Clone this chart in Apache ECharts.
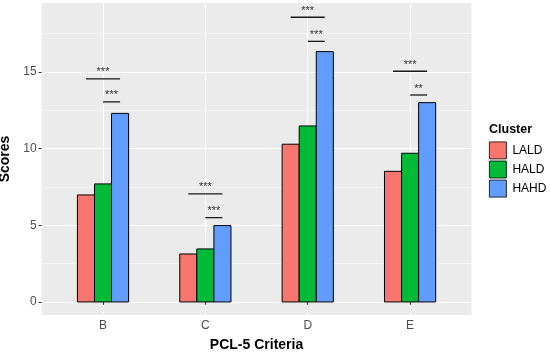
<!DOCTYPE html>
<html><head><meta charset="utf-8">
<script src="https://cdn.jsdelivr.net/npm/echarts@6/dist/echarts.min.js"></script>
<style>html,body{margin:0;padding:0;background:#fff}#c{width:550px;height:354px}</style>
</head><body><div id="c"></div>
<script>
const categories = ['B', 'C', 'D', 'E'];
const clusters = ['LALD', 'HALD', 'HAHD'];
const colors = ['#F8766D', '#00BA38', '#619CFF'];
const lald = [6.98, 3.13, 10.29, 8.52];
const hald = [7.70, 3.46, 11.48, 9.70];
const hahd = [12.30, 4.98, 16.33, 13.00];
// significance brackets
const sigAllY = [14.55, 7.05, 18.57, 15.05];      // LALD vs HAHD
const sigAllLabel = ['***', '***', '***', '***'];
const sigHighY = [13.05, 5.50, 17.00, 13.50];     // HALD vs HAHD
const sigHighLabel = ['***', '***', '***', '**'];
const yTicks = [0, 5, 10, 15];
const yMinor = [2.5, 7.5, 12.5, 17.5];

const seriesValues = [lald, hald, hahd];
const FONT = '"Liberation Sans", Arial, sans-serif';
const DODGE = 1 / 6;

function barSeries(k) {
  return {
    name: clusters[k],
    type: 'custom',
    xAxisIndex: 0, yAxisIndex: 0,
    itemStyle: { color: colors[k], borderColor: '#000', borderWidth: 0.8 },
    data: seriesValues[k].map((v, i) => [i + 1, v]),
    encode: { x: 0, y: 1 },
    renderItem: function (params, api) {
      const cx = api.value(0) + (k - 1) * DODGE;
      const p1 = api.coord([cx - DODGE / 2, api.value(1)]);
      const p0 = api.coord([cx + DODGE / 2, 0]);
      return {
        type: 'rect',
        shape: { x: p1[0], y: p1[1], width: p0[0] - p1[0], height: p0[1] - p1[1] },
        style: { fill: colors[k], stroke: '#000', lineWidth: 1 }
      };
    },
    z: 3
  };
}

const bracketData = [];
categories.forEach((c, i) => {
  bracketData.push([i + 1, sigAllY[i], sigAllLabel[i], 0]);
  bracketData.push([i + 1, sigHighY[i], sigHighLabel[i], 1]);
});

const bracketSeries = {
  type: 'custom',
  xAxisIndex: 0, yAxisIndex: 0,
  data: bracketData,
  encode: { x: 0, y: 1 },
  silent: true,
  renderItem: function (params, api) {
    const x = api.value(0), y = api.value(1);
    const kind = api.value(3);
    const lab = bracketData[params.dataIndex][2];
    const x0 = kind === 0 ? x - DODGE : x;
    const x1 = x + DODGE;
    const a = api.coord([x0, y]);
    const b = api.coord([x1, y]);
    return {
      type: 'group',
      children: [
        { type: 'line', shape: { x1: a[0], y1: a[1], x2: b[0], y2: b[1] },
          style: { stroke: '#1a1a1a', lineWidth: 1.3 } },
        { type: 'text', x: (a[0] + b[0]) / 2, y: a[1] - 1,
          style: { text: lab, fill: '#333', font: '11px ' + FONT, align: 'center', verticalAlign: 'bottom' } }
      ]
    };
  },
  z: 4
};

const chart = echarts.init(document.getElementById('c'), null, { renderer: 'canvas' });
chart.setOption({
  backgroundColor: '#fff',
  animation: false,
  textStyle: { fontFamily: FONT },
  grid: { left: 41.6, right: 78.5, top: 3, bottom: 39, backgroundColor: '#EBEBEB', show: true, borderWidth: 0,
    containLabel: false, outerBoundsMode: 'none' },
  xAxis: [{
    type: 'value', min: 0.4, max: 4.6,
    name: 'PCL-5 Criteria', nameLocation: 'middle', nameGap: 23,
    nameTextStyle: { fontFamily: FONT, fontWeight: 'bold', fontSize: 14, color: '#000' },
    axisLine: { show: false },
    axisTick: { show: true, length: 3, lineStyle: { color: '#333', width: 1 }, customValues: [1, 2, 3, 4] },
    axisLabel: { customValues: [1, 2, 3, 4], margin: 5, fontSize: 12, color: '#4D4D4D', fontFamily: FONT,
      formatter: v => categories[Math.round(v) - 1] || '' },
    splitLine: { show: true, lineStyle: { color: '#fff', width: 1.1 } }
  }],
  yAxis: [{
    type: 'value', min: -0.85, max: 19.5,
    name: 'Scores', nameLocation: 'middle', nameGap: 26, nameRotate: 90,
    nameTextStyle: { fontFamily: FONT, fontWeight: 'bold', fontSize: 14, color: '#000' },
    axisLine: { show: false },
    axisTick: { show: true, length: 3, lineStyle: { color: '#333', width: 1 }, customValues: yTicks },
    axisLabel: { customValues: yTicks, margin: 5, fontSize: 12, color: '#4D4D4D', fontFamily: FONT },
    splitLine: { show: true, lineStyle: { color: '#fff', width: 1.1 } }
  }, {
    type: 'value', min: -0.85, max: 19.5, position: 'left',
    axisLine: { show: false }, axisLabel: { show: false },
    axisTick: { show: false, customValues: yMinor },
    splitLine: { show: true, lineStyle: { color: '#fff', width: 0.5 } }
  }],
  legend: {
    orient: 'vertical', left: 489, top: 141.5,
    itemWidth: 17, itemHeight: 17, itemGap: 1.3,
    icon: 'rect',
    data: clusters.map((c, k) => ({ name: c, itemStyle: { color: colors[k], borderColor: '#000', borderWidth: 0.8 } })),
    textStyle: { fontSize: 12, color: '#000', fontFamily: FONT, padding: [0, 0, 0, 1] },
    padding: 0
  },
  graphic: [{
    type: 'text', left: 489, top: 123,
    style: { text: 'Cluster', font: 'bold 12.5px ' + FONT, fill: '#000' }
  }],
  series: [barSeries(0), barSeries(1), barSeries(2), bracketSeries]
});
</script>
</body></html>
